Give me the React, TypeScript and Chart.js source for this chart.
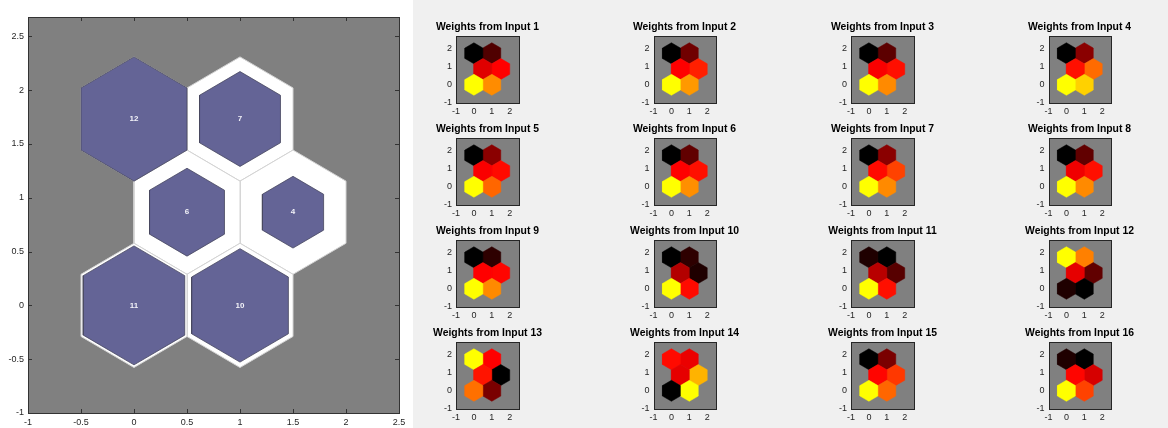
import React, { useEffect, useRef } from "react";
import { Chart, registerables } from "chart.js";

Chart.register(...registerables);

// ---- SOM topology: 6 neurons on a hexagonal grid ----
const neuronX = [0, 1, 0.5, 1.5, 0, 1];
const neuronY = [0, 0, 0.866, 0.866, 1.732, 1.732];

// Sample hits per neuron
const hitCounts = [11, 10, 6, 4, 12, 7];

// Axis ticks
const hitXTicks = [-1, -0.5, 0, 0.5, 1, 1.5, 2, 2.5];
const hitYTicks = [-1, -0.5, 0, 0.5, 1, 1.5, 2, 2.5];
const planeTicks = [-1, 0, 1, 2];

// Normalised weight planes (0 = black, 0.5 = red, 1 = yellow), per neuron
const input1 = [1, 0.775, 0.44, 0.5, 0, 0.157];
const input2 = [1, 0.8, 0.5, 0.56, 0, 0.22];
const input3 = [1, 0.77, 0.49, 0.53, 0, 0.18];
const input4 = [1, 0.91, 0.53, 0.71, 0, 0.27];
const input5 = [1, 0.7, 0.49, 0.52, 0, 0.27];
const input6 = [1, 0.78, 0.5, 0.53, 0, 0.19];
const input7 = [1, 0.77, 0.52, 0.63, 0, 0.27];
const input8 = [1, 0.77, 0.47, 0.53, 0, 0.19];
const input9 = [1, 0.77, 0.5, 0.51, 0, 0.09];
const input10 = [1, 0.52, 0.35, 0.06, 0, 0.09];
const input11 = [1, 0.53, 0.36, 0.17, 0.06, 0];
const input12 = [0.06, 0, 0.45, 0.19, 1, 0.75];
const input13 = [0.72, 0.24, 0.54, 0, 1, 0.5];
const input14 = [0, 1, 0.45, 0.85, 0.52, 0.46];
const input15 = [1, 0.7, 0.51, 0.61, 0, 0.24];
const input16 = [1, 0.63, 0.51, 0.42, 0.06, 0];

const planeWeights = [
  input1, input2, input3, input4,
  input5, input6, input7, input8,
  input9, input10, input11, input12,
  input13, input14, input15, input16,
];

// ---- layout ----
const FONT = "Arial, Helvetica, sans-serif";
const TICK_COLOR = "#262626";
const PLOT_BG = "#808080";
const colLeft = [456, 653.5, 851, 1048.5];
const rowTop = [36, 138, 240, 342];
const PLANE_W = 62.7;

function hexVertices(cx: number, cy: number, size: number) {
  const r = size / Math.sqrt(3);
  const pts: { x: number; y: number }[] = [];
  for (let k = 0; k <= 6; k++) {
    const a = Math.PI / 2 + (k * Math.PI) / 3;
    pts.push({ x: cx + r * Math.cos(a), y: cy + r * Math.sin(a) });
  }
  return pts;
}

function heatColor(t: number) {
  const r = Math.round(255 * Math.min(1, Math.max(0, 2 * t)));
  const g = Math.round(255 * Math.min(1, Math.max(0, 2 * t - 1)));
  return `rgb(${r},${g},0)`;
}

function pixelBox(a: any) {
  const x0 = Math.round(a.left);
  const x1 = Math.round(a.right);
  const y0 = Math.round(a.top);
  const y1 = Math.round(a.bottom);
  return { x0, x1, y0, y1 };
}

// Gray plot background, box outline and inward ticks
const matlabAxes = {
  id: "matlabAxes",
  beforeDatasetsDraw(chart: any, _args: any, opts: any) {
    const { ctx } = chart;
    const { x0, x1, y0, y1 } = pixelBox(chart.chartArea);
    ctx.save();
    ctx.fillStyle = opts.background;
    ctx.fillRect(x0, y0, x1 - x0 + 1, y1 - y0 + 1);
    ctx.restore();
  },
  afterDatasetsDraw(chart: any, _args: any, opts: any) {
    const { ctx, scales } = chart;
    const { x0, x1, y0, y1 } = pixelBox(chart.chartArea);
    ctx.save();
    ctx.strokeStyle = opts.lineColor;
    ctx.lineWidth = 1;
    const L = opts.tickLength || 0;
    if (L > 0) {
      ctx.beginPath();
      for (const t of scales.x.ticks) {
        const px = Math.round(scales.x.getPixelForValue(t.value)) + 0.5;
        ctx.moveTo(px, y1);
        ctx.lineTo(px, y1 - L);
        ctx.moveTo(px, y0);
        ctx.lineTo(px, y0 + L);
      }
      for (const t of scales.y.ticks) {
        const py = Math.round(scales.y.getPixelForValue(t.value)) + 0.5;
        ctx.moveTo(x0, py);
        ctx.lineTo(x0 + L, py);
        ctx.moveTo(x1, py);
        ctx.lineTo(x1 - L, py);
      }
      ctx.stroke();
    }
    ctx.strokeRect(x0 + 0.5, y0 + 0.5, x1 - x0, y1 - y0);
    ctx.restore();
  },
};

// Hit counts written at each neuron
const hitLabels = {
  id: "hitLabels",
  afterDatasetsDraw(chart: any) {
    const { ctx, scales } = chart;
    ctx.save();
    ctx.fillStyle = "#f2f2f8";
    ctx.font = `bold 8px ${FONT}`;
    ctx.textAlign = "center";
    ctx.textBaseline = "middle";
    hitCounts.forEach((h, i) => {
      ctx.fillText(
        String(h),
        scales.x.getPixelForValue(neuronX[i]),
        scales.y.getPixelForValue(neuronY[i])
      );
    });
    ctx.restore();
  },
};

function axisOptions(
  min: number,
  max: number,
  ticks: number[],
  size: number,
  position: "left" | "bottom",
  padding: number
) {
  return {
    type: "linear",
    position,
    min,
    max,
    grid: { display: false, drawTicks: false },
    border: { display: false },
    afterBuildTicks: (s: any) => {
      s.ticks = ticks.map((value) => ({ value }));
    },
    afterFit: (s: any) => {
      if (position === "left") s.width = size;
      else s.height = size;
    },
    ticks: {
      autoSkip: false,
      maxRotation: 0,
      includeBounds: false,
      padding,
      color: TICK_COLOR,
      font: { family: FONT, size: 9 },
      callback: (v: any) => String(v),
    },
  };
}

// Empty right-hand spacer axis of a fixed width
function spacerAxis(size: number) {
  return {
    type: "linear",
    position: "right",
    display: true,
    grid: { display: false, drawTicks: false },
    border: { display: false },
    ticks: { display: false },
    afterFit: (s: any) => {
      s.width = size;
    },
  };
}

// A closed hexagon drawn as a filled line; lower `order` draws on top
function polygonDataset(points: any[], fill: string, edge: string, width: number, order: number) {
  return {
    data: points,
    showLine: true,
    fill: "shape",
    backgroundColor: fill,
    borderColor: edge,
    borderWidth: width,
    pointRadius: 0,
    pointHoverRadius: 0,
    tension: 0,
    order,
  };
}

function HitsChart() {
  const ref = useRef<HTMLCanvasElement | null>(null);
  useEffect(() => {
    const maxHits = Math.max(...hitCounts);
    const outlines = neuronX.map((x, i) =>
      polygonDataset(hexVertices(x, neuronY[i], 1), "#ffffff", "#d4d4d4", 1, 2)
    );
    const hits = neuronX.map((x, i) =>
      polygonDataset(
        hexVertices(x, neuronY[i], Math.sqrt(hitCounts[i] / maxHits)),
        "#646496",
        "#46465e",
        0.8,
        1
      )
    );
    const chart = new Chart(ref.current as HTMLCanvasElement, {
      type: "scatter",
      data: { datasets: [...outlines, ...hits] as any },
      options: {
        responsive: false,
        animation: false,
        devicePixelRatio: 1,
        events: [],
        layout: { padding: { top: 17, right: 14, left: 0, bottom: 0 } },
        scales: {
          x: axisOptions(-1, 2.5, hitXTicks, 15, "bottom", 4) as any,
          y: axisOptions(-1, 2.68, hitYTicks, 28, "left", 4) as any,
        },
        plugins: {
          legend: { display: false },
          tooltip: { enabled: false },
          title: { display: false },
          matlabAxes: { background: PLOT_BG, lineColor: "#333333", tickLength: 4 },
        } as any,
      },
      plugins: [matlabAxes, hitLabels],
    });
    return () => chart.destroy();
  }, []);
  return (
    <canvas
      ref={ref}
      width={413}
      height={428}
      style={{ position: "absolute", left: 0, top: 0, width: 413, height: 428 }}
    />
  );
}

function PlaneChart({ index, weights }: { index: number; weights: number[] }) {
  const ref = useRef<HTMLCanvasElement | null>(null);
  const boxLeft = colLeft[index % 4];
  const boxTop = rowTop[Math.floor(index / 4)];
  const width = 137;
  const height = 107;
  // left and right axis widths balance so the title centres over the box
  const canvasLeft = Math.floor(boxLeft) - 37;
  const leftAxisWidth = boxLeft - canvasLeft;
  const rightAxisWidth = width - leftAxisWidth - PLANE_W;
  useEffect(() => {
    const datasets = neuronX.map((x, i) => {
      const c = heatColor(weights[i]);
      return polygonDataset(hexVertices(x, neuronY[i], 1), c, c, 0.5, 1);
    });
    const chart = new Chart(ref.current as HTMLCanvasElement, {
      type: "scatter",
      data: { datasets: datasets as any },
      options: {
        responsive: false,
        animation: false,
        devicePixelRatio: 1,
        events: [],
        layout: { padding: { top: 4.72, right: 0, left: 0, bottom: 0 } },
        scales: {
          x: axisOptions(-1, 2.5, planeTicks, 16, "bottom", 3) as any,
          y: axisOptions(-1, 2.68, planeTicks, leftAxisWidth, "left", 4) as any,
          yRight: spacerAxis(rightAxisWidth) as any,
        },
        plugins: {
          legend: { display: false },
          tooltip: { enabled: false },
          title: {
            display: true,
            text: `Weights from Input ${index + 1}`,
            color: "#000000",
            fullSize: true,
            font: { family: FONT, size: 10.4, weight: "bold", lineHeight: 1.2 },
            padding: { top: 4, bottom: 2.8 },
          },
          matlabAxes: { background: PLOT_BG, lineColor: "#262626", tickLength: 0 },
        } as any,
      },
      plugins: [matlabAxes],
    });
    return () => chart.destroy();
  }, [index, weights]);
  return (
    <canvas
      ref={ref}
      width={width}
      height={height}
      style={{
        position: "absolute",
        left: canvasLeft,
        top: boxTop - 24,
        width,
        height,
      }}
    />
  );
}

export default function App() {
  return (
    <div
      style={{
        position: "absolute",
        left: 0,
        top: 0,
        width: 1168,
        height: 428,
        overflow: "hidden",
        background: "#f0f0f0",
      }}
    >
      <div
        style={{
          position: "absolute",
          left: 0,
          top: 0,
          width: 413,
          height: 428,
          background: "#ffffff",
        }}
      />
      <HitsChart />
      {planeWeights.map((w, i) => (
        <PlaneChart key={i} index={i} weights={w} />
      ))}
    </div>
  );
}
